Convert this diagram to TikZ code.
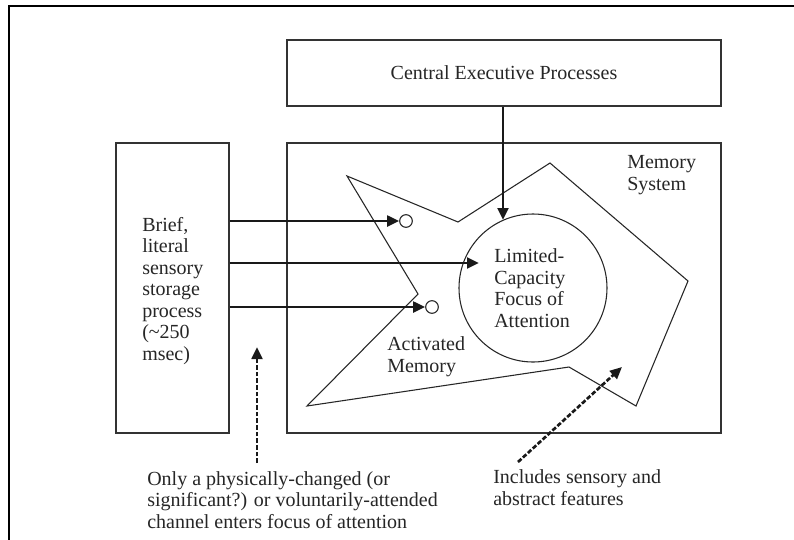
\documentclass[tikz,border=0pt]{standalone}
\usepackage{fontspec}
\setmainfont{Liberation Serif}
\usetikzlibrary{arrows.meta}

\begin{document}
\begin{tikzpicture}[x=0.75pt,y=-0.75pt,
  frame/.style={draw=black,line width=1.3pt},
  boxline/.style={draw=black!80,line width=1pt},
  shape line/.style={draw=black!85,line width=0.8pt},
  flow/.style={draw=black!90,line width=2.2pt,-{Triangle[length=9pt,width=8pt]}},
  hint/.style={draw=black!90,line width=2pt,dash pattern=on 3.5pt off 1.5pt,
    -{Triangle[length=9pt,width=8pt]}},
  label/.style={inner sep=0pt,align=left,text=black!85,
    font=\fontsize{15}{16.1}\selectfont},
  ring/.style={circle,draw=black!85,line width=0.8pt,inner sep=0pt,
    minimum size=9.5pt}]

\useasboundingbox (0,0) rectangle (794,540);
\fill[white] (0,0) rectangle (794,540);

% page frame: top and left rules only
\coordinate (fl) at (9,540);
\coordinate (fc) at (9,6);
\coordinate (fr) at (794,6);
\draw[frame] (fl) -- (fc) -- (fr);

% boxes
\node[boxline,minimum width=325.5pt,minimum height=49.5pt,inner sep=0pt,
  text=black!85,font=\fontsize{15}{16.1}\selectfont]
  (exec) at (504,73) {Central Executive Processes};
\node[boxline,minimum width=84.75pt,minimum height=217.5pt,inner sep=0pt]
  (sensory) at (172.5,288) {};
\node[boxline,minimum width=325.5pt,minimum height=217.5pt,inner sep=0pt]
  (memory) at (504,288) {};

% activated memory region
\draw[shape line] (347,176) -- (458,222) -- (550,163) -- (688,281)
  -- (636,406) -- (569,367) -- (307,406) -- (418,294) -- cycle;

% focus of attention
\node[circle,draw=black!85,line width=0.8pt,minimum size=111pt,inner sep=0pt]
  (focus) at (533,288) {};

% activated items
\node[ring] (c1) at (406,221) {};
\node[ring] (c2) at (432,307) {};
\coordinate (mid) at (479,263);
\coordinate (top) at (503,220);

% flows
\draw[flow] (sensory.east |- c1) -- (c1.west);
\draw[flow] (sensory.east |- mid) -- (mid);
\draw[flow] (sensory.east |- c2) -- (c2.west);
\draw[flow] (exec.south -| top) -- (top);

% annotation pointers
\coordinate (d1s) at (257,463);
\coordinate (d1e) at (257,347);
\coordinate (d2s) at (518,462);
\coordinate (d2e) at (622,367);
\draw[hint] (d1s) -- (d1e);
\draw[hint] (d2s) -- (d2e);

% labels (anchored at the baseline of their last line)
\node[label,anchor=base west] (memlab) at (627,190) {Memory\\System};
\node[label,anchor=base west] (focuslab) at (494,327)
  {Limited-\\Capacity\\Focus of\\Attention};
\node[label,anchor=base west] (senslab) at (142,360)
  {Brief,\\literal\\sensory\\storage\\process\\(\textasciitilde250\\msec)};
\node[label,anchor=base west] (actlab) at (387,372) {Activated\\Memory};
\node[label,anchor=base west] (note1) at (147,528)
  {Only a physically-changed (or\\significant?) or voluntarily-attended\\channel enters focus of attention};
\node[label,anchor=base west] (note2) at (493,505)
  {Includes sensory and\\abstract features};
\end{tikzpicture}
\end{document}
